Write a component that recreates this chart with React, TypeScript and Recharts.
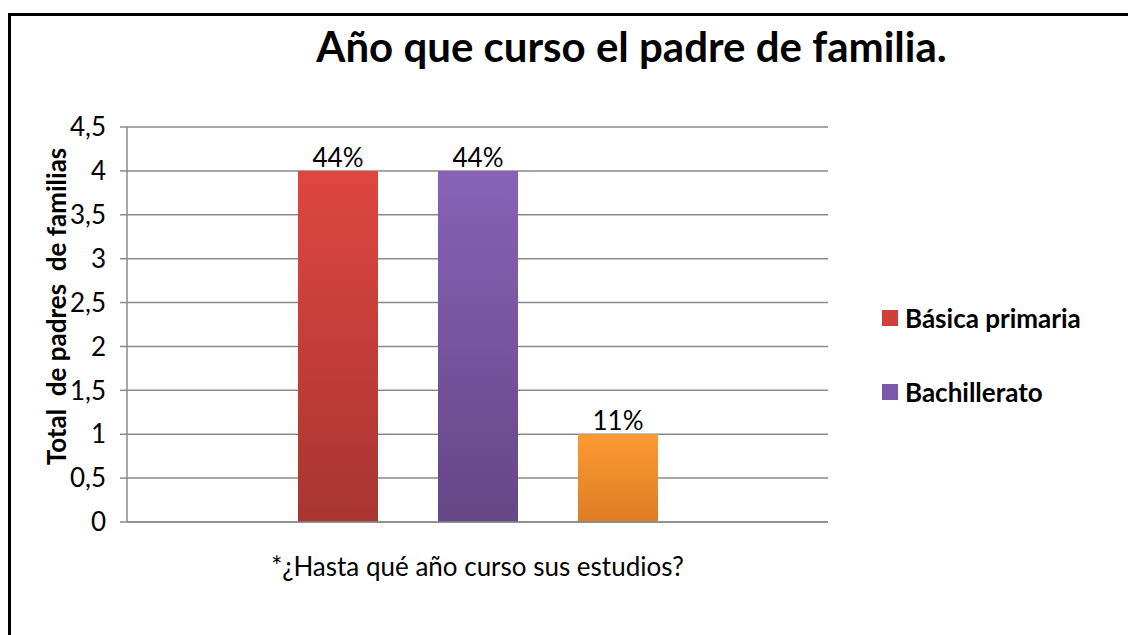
import React from 'react';
import { BarChart, Bar, XAxis, YAxis, CartesianGrid, LabelList, Label } from 'recharts';

// Values
const categories = ['*¿Hasta qué año curso sus estudios?'];
const basicaPrimaria = [4];
const bachillerato = [4];
const otro = [1];
const yTicks = [0, 0.5, 1, 1.5, 2, 2.5, 3, 3.5, 4, 4.5];

// only the first two series are shown in the legend of the original
const legendItems = [
  { name: 'Básica primaria', color: '#D0403B' },
  { name: 'Bachillerato', color: '#7D58AA' },
];

const data = categories.map((cat, i) => ({
  categoria: cat,
  basica: basicaPrimaria[i],
  bachillerato: bachillerato[i],
  otro: otro[i],
}));

const total = basicaPrimaria[0] + bachillerato[0] + otro[0];

const FONT = 'Lato, "Open Sans", sans-serif';
const GRID = '#8a8a8a';

function pct(v: number | string) {
  return `${Math.round((Number(v) / total) * 100)}%`;
}

function YTitle(props: any) {
  const vb = props.viewBox;
  const x = 56;
  const y = vb.y + vb.height / 2 - 18;
  return (
    <text
      x={x}
      y={y}
      transform={`rotate(-90 ${x} ${y})`}
      textAnchor="middle"
      dominantBaseline="central"
      fontFamily={FONT}
      fontWeight={700}
      fontSize={26}
      fill="#000"
      style={{ whiteSpace: 'pre' }}
    >
      {'Total  de padres  de familias'}
    </text>
  );
}

const labelStyle = { fontFamily: FONT, fontSize: 26, fill: '#000' };

export default function App() {
  return (
    <div style={{ position: 'absolute', left: 0, top: 0, width: 1128, height: 635, background: '#fff', overflow: 'hidden' }}>
      <div
        style={{
          position: 'absolute',
          left: 8,
          top: 13,
          width: 1200,
          height: 700,
          borderTop: '3px solid #000',
          borderLeft: '3px solid #000',
        }}
      />
      <div
        style={{
          position: 'absolute',
          left: 0,
          width: 1263,
          top: 21,
          textAlign: 'center',
          fontFamily: FONT,
          fontWeight: 700,
          fontSize: 42,
          lineHeight: '50px',
          color: '#000',
        }}
      >
        Año que curso el padre de familia.
      </div>
      <div style={{ position: 'absolute', left: 882, top: 303, fontFamily: FONT }}>
        {legendItems.map((it) => (
          <div key={it.name} style={{ display: 'flex', alignItems: 'center', height: 30, marginBottom: 44 }}>
            <span style={{ width: 16, height: 16, background: it.color, marginRight: 7 }} />
            <span style={{ fontWeight: 700, fontSize: 26, color: '#000' }}>{it.name}</span>
          </div>
        ))}
      </div>
      <div style={{ position: 'absolute', left: 0, top: 0 }}>
        <BarChart
          width={1128}
          height={635}
          data={data}
          margin={{ top: 127, right: 300, bottom: 13, left: 27 }}
          barCategoryGap={171}
          barGap={60}
          barSize={80}
        >
          <defs>
            <linearGradient id="gRed" x1="0" y1="0" x2="0" y2="1">
              <stop offset="0%" stopColor="#DF4640" />
              <stop offset="100%" stopColor="#A83531" />
            </linearGradient>
            <linearGradient id="gPurple" x1="0" y1="0" x2="0" y2="1">
              <stop offset="0%" stopColor="#8862B6" />
              <stop offset="100%" stopColor="#654686" />
            </linearGradient>
            <linearGradient id="gOrange" x1="0" y1="0" x2="0" y2="1">
              <stop offset="0%" stopColor="#FD9A32" />
              <stop offset="100%" stopColor="#DE7B24" />
            </linearGradient>
          </defs>
          <CartesianGrid vertical={false} stroke={GRID} strokeWidth={1.5} />
          <XAxis
            dataKey="categoria"
            height={100}
            tickSize={0}
            tickMargin={36}
            axisLine={{ stroke: GRID, strokeWidth: 1.5 }}
            tick={{ fontFamily: FONT, fontSize: 26, fill: '#000' }}
          />
          <YAxis
            width={100}
            domain={[0, 4.5]}
            ticks={yTicks}
            interval={0}
            tickSize={7}
            tickMargin={14}
            tickFormatter={(v: number) => String(v).replace('.', ',')}
            axisLine={{ stroke: GRID, strokeWidth: 1.5 }}
            tickLine={{ stroke: GRID, strokeWidth: 1.5 }}
            tick={{ fontFamily: FONT, fontSize: 26, fill: '#000' }}
          >
            <Label content={<YTitle />} />
          </YAxis>
          <Bar dataKey="basica" name="Básica primaria" fill="url(#gRed)" isAnimationActive={false}>
            <LabelList dataKey="basica" position="top" offset={4} formatter={pct} style={labelStyle} />
          </Bar>
          <Bar dataKey="bachillerato" name="Bachillerato" fill="url(#gPurple)" isAnimationActive={false}>
            <LabelList dataKey="bachillerato" position="top" offset={4} formatter={pct} style={labelStyle} />
          </Bar>
          <Bar dataKey="otro" name="Otro" fill="url(#gOrange)" isAnimationActive={false}>
            <LabelList dataKey="otro" position="top" offset={4} formatter={pct} style={labelStyle} />
          </Bar>
        </BarChart>
      </div>
    </div>
  );
}
